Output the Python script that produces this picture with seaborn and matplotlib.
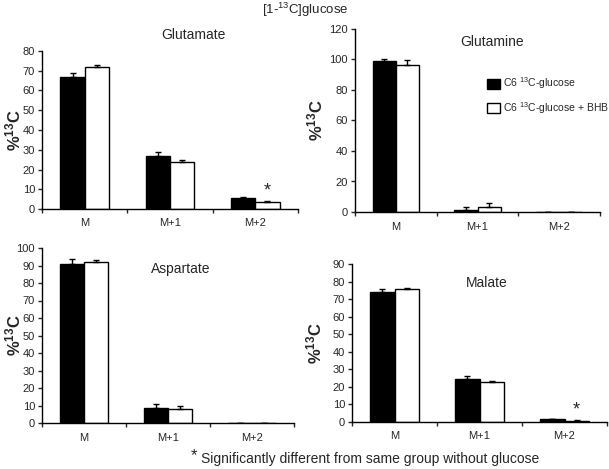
import numpy as np
import pandas as pd
import matplotlib
matplotlib.use('Agg')
import matplotlib.pyplot as plt
from matplotlib.patches import Patch
import seaborn as sns

sns.set_style('white')
plt.rcParams['font.family'] = ['Liberation Sans', 'DejaVu Sans']
plt.rcParams['mathtext.default'] = 'regular'

# Isotopomer categories and the two groups
isotopomers = ['M', 'M+1', 'M+2']
groups = ['C6 $^{13}$C-glucose', 'C6 $^{13}$C-glucose + BHB']

# Values (mean, upper error)
glutamate_ctl = [67, 27, 5.5]
glutamate_bhb = [72, 24, 3.5]
glutamate_ctl_err = [2, 2, 0.5]
glutamate_bhb_err = [1, 1, 0.5]

glutamine_ctl = [99, 1.5, 0]
glutamine_bhb = [96.5, 3, 0]
glutamine_ctl_err = [1.5, 1.5, 0]
glutamine_bhb_err = [3, 3, 0]

aspartate_ctl = [91, 8.5, 0]
aspartate_bhb = [92, 8, 0]
aspartate_ctl_err = [2.5, 2.5, 0]
aspartate_bhb_err = [1, 1.5, 0]

malate_ctl = [74, 24.5, 1.5]
malate_bhb = [76, 23, 0.8]
malate_ctl_err = [1.5, 1.5, 0.2]
malate_bhb_err = [0.5, 0.5, 0.2]

fig = plt.figure(figsize=(6.09, 4.69), dpi=100)
W, H = 609, 469


def px_axes(left, top, right, bottom):
    return fig.add_axes([left / W, (H - bottom) / H, (right - left) / W, (bottom - top) / H])


def panel(ax, ctl, bhb, ctl_err, bhb_err, ymax, step, title, tx, ty, ylab_x, star=None):
    df = pd.DataFrame({'iso': isotopomers * 2,
                       'group': [groups[0]] * 3 + [groups[1]] * 3,
                       'value': ctl + bhb})
    sns.barplot(df, x='iso', y='value', hue='group', order=isotopomers, hue_order=groups,
                palette=['black', 'white'], edgecolor='black', linewidth=1,
                width=0.57, errorbar=None, legend=False, ax=ax)
    for k, (cont, err) in enumerate(zip(ax.containers, [ctl_err, bhb_err])):
        xs = [b.get_x() + b.get_width() / 2 for b in cont]
        ys = [b.get_height() for b in cont]
        ax.errorbar(xs, ys, yerr=[np.zeros(3), err], fmt='none', ecolor='black',
                    elinewidth=1, capsize=2, capthick=1)
        if star is not None and k == 1:
            ax.text(xs[star], ys[star] + 1.2 * ymax / 80, '*', ha='center', va='bottom',
                    fontsize=13)
    ax.set_xlim(-0.5, 2.5)
    ax.set_ylim(0, ymax)
    ax.set_yticks(np.arange(0, ymax + 1, step))
    ax.set_xticks([-0.5, 0.5, 1.5, 2.5])
    ax.set_xticklabels([])
    for i, lab in enumerate(isotopomers):
        ax.text(i, -0.055, lab, transform=ax.get_xaxis_transform(), ha='center', va='top',
                fontsize=8)
    ax.tick_params(axis='both', direction='out', length=3, width=1, labelsize=8,
                   left=True, bottom=True, pad=2)
    for s in ['top', 'right']:
        ax.spines[s].set_visible(False)
    for s in ['left', 'bottom']:
        ax.spines[s].set_color('black')
        ax.spines[s].set_linewidth(1)
    ax.set_xlabel('')
    ax.set_ylabel('%$^{13}$C', fontsize=12, fontweight='bold')
    ax.yaxis.set_label_coords(ylab_x, 0.5)
    ax.text(tx, ty, title, transform=ax.transAxes, ha='center', va='center', fontsize=10)


ax1 = px_axes(42, 51, 298, 209)
panel(ax1, glutamate_ctl, glutamate_bhb, glutamate_ctl_err, glutamate_bhb_err,
      80, 10, 'Glutamate', 0.59, 1.1, (23 - 42) / 256, star=2)

ax2 = px_axes(355, 29, 600, 212)
panel(ax2, glutamine_ctl, glutamine_bhb, glutamine_ctl_err, glutamine_bhb_err,
      120, 20, 'Glutamine', 0.56, 0.93, (325 - 355) / 245)
handles = [Patch(facecolor='black', edgecolor='black'), Patch(facecolor='white', edgecolor='black')]
ax2.legend(handles, groups, loc='upper left', bbox_to_anchor=(0.54, 0.745), frameon=False,
           fontsize=7.5, handlelength=1.25, handleheight=1.1, labelspacing=0.8,
           handletextpad=0.3, borderpad=0, borderaxespad=0)

ax3 = px_axes(42, 248, 294, 423)
panel(ax3, aspartate_ctl, aspartate_bhb, aspartate_ctl_err, aspartate_bhb_err,
      100, 10, 'Aspartate', 0.55, 0.88, (23 - 42) / 252)

ax4 = px_axes(352, 264, 607, 422)
panel(ax4, malate_ctl, malate_bhb, malate_ctl_err, malate_bhb_err,
      90, 10, 'Malate', 0.53, 0.88, (324 - 352) / 255, star=2)

fig.text(305 / W, 1 - 10 / H, '[1-$^{13}$C]glucose', ha='center', va='center', fontsize=9.5)
fig.text(191 / W, 1 - 456 / H, '*', ha='left', va='center', fontsize=12)
fig.text(201 / W, 1 - 459 / H, 'Significantly different from same group without glucose',
         ha='left', va='center', fontsize=10)

fig.savefig('out.png', dpi=100)
